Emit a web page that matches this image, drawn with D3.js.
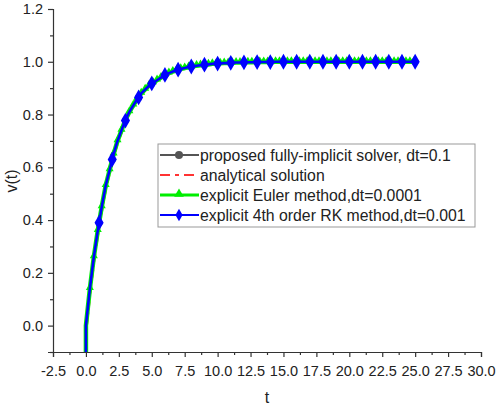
<!DOCTYPE html>
<html>
<head>
<meta charset="utf-8">
<script src="https://cdn.jsdelivr.net/npm/d3@7"></script>
<style>
  body { margin: 0; background: #fff; }
  text { font-family: "Liberation Sans", Arial, sans-serif; fill: #222; }
</style>
</head>
<body>
<svg id="chart" width="498" height="405"></svg>
<script>
// dense time grid (line data)
const tLine = [0, 0, 0.3, 0.6, 0.9, 1.2, 1.5, 1.8, 2.1, 2.4, 2.7, 3.0, 3.3, 3.6, 3.9, 4.2, 4.5, 4.8,
  5.1, 5.4, 5.7, 6.0, 6.3, 6.6, 6.9, 7.2, 7.5, 7.8, 8.1, 8.4, 8.7, 9.0, 9.3, 9.6, 9.9,
  10.2, 10.5, 10.8, 11.1, 11.4, 11.7, 12.0, 12.3, 12.6, 12.9, 13.2, 13.5, 13.8, 14.1,
  14.4, 14.7, 15.0, 15.3, 15.6, 15.9, 16.2, 16.5, 16.8, 17.1, 17.4, 17.7, 18.0, 18.3,
  18.6, 18.9, 19.2, 19.5, 19.8, 20.1, 20.4, 20.7, 21.0, 21.3, 21.6, 21.9, 22.2, 22.5,
  22.8, 23.1, 23.4, 23.7, 24.0, 24.3, 24.6, 24.9];
const vLine = [-0.12, 0, 0.14, 0.26, 0.36, 0.45, 0.53, 0.59, 0.65, 0.70, 0.74, 0.78, 0.81, 0.835, 0.86, 0.88, 0.895, 0.91,
  0.92, 0.93, 0.94, 0.95, 0.957, 0.963, 0.968, 0.973, 0.976, 0.98, 0.983, 0.985, 0.987, 0.989, 0.99, 0.992, 0.993,
  0.994, 0.995, 0.995, 0.996, 0.997, 0.997, 0.998, 0.998, 0.998, 0.999, 0.999, 0.999, 0.999, 0.999,
  1.0, 1.0, 1.0, 1.0, 1.0, 1.0, 1.0, 1.0, 1.0, 1.0, 1.0, 1.0, 1.0, 1.0,
  1.0, 1.0, 1.0, 1.0, 1.0, 1.0, 1.0, 1.0, 1.0, 1.0, 1.0, 1.0, 1.0, 1.0,
  1.0, 1.0, 1.0, 1.0, 1.0, 1.0, 1.0, 1.0];

// marker positions of the RK / proposed series (every 1.0)
const tMark = [1, 2, 3, 4, 5, 6, 7, 8, 9, 10, 11, 12, 13, 14, 15, 16, 17, 18, 19, 20, 21, 22, 23, 24, 25];
const vMark = [0.39, 0.63, 0.777, 0.865, 0.918, 0.95, 0.97, 0.982, 0.989, 0.993, 0.996, 0.998, 0.999, 0.999,
  1.0, 1.0, 1.0, 1.0, 1.0, 1.0, 1.0, 1.0, 1.0, 1.0, 1.0];

const xTicks = [-2.5, 0, 2.5, 5, 7.5, 10, 12.5, 15, 17.5, 20, 22.5, 25, 27.5, 30];
const yTicks = [0, 0.2, 0.4, 0.6, 0.8, 1.0, 1.2];

const legendLabels = [
  "proposed fully-implicit solver, dt=0.1",
  "analytical solution",
  "explicit Euler method,dt=0.0001",
  "explicit 4th order RK method,dt=0.001"
];
const legendColors = ["#555555", "#ff3333", "#00ee00", "#0000ff"];

const svg = d3.select("#chart");
const margin = { left: 53, right: 17, top: 9, bottom: 53 };
const width = +svg.attr("width"), height = +svg.attr("height");

const x = d3.scaleLinear().domain([-2.5, 30]).range([margin.left, width - margin.right]);
const y = d3.scaleLinear().domain([-0.1, 1.2]).range([height - margin.bottom, margin.top]);
const fmt = (d) => d.toFixed(1); // plain hyphen for negatives

svg.append("clipPath").attr("id", "plot-clip")
  .append("rect")
  .attr("x", margin.left).attr("y", margin.top)
  .attr("width", x.range()[1] - margin.left)
  .attr("height", y.range()[0] - margin.top);

const lineData = tLine.map((t, i) => [t, vLine[i]]);
const markData = tMark.map((t, i) => [t, vMark[i]]);
const line = d3.line().x((d) => x(d[0])).y((d) => y(d[1]));

const plot = svg.append("g").attr("clip-path", "url(#plot-clip)");

// proposed (gray, hidden underneath)
plot.append("path").datum(lineData).attr("d", line)
  .attr("fill", "none").attr("stroke", legendColors[0]).attr("stroke-width", 2);
plot.selectAll(".gray-dot").data(markData).join("circle")
  .attr("cx", (d) => x(d[0])).attr("cy", (d) => y(d[1])).attr("r", 3.5)
  .attr("fill", legendColors[0]);

// analytical (red dash-dot)
plot.append("path").datum(lineData).attr("d", line)
  .attr("fill", "none").attr("stroke", legendColors[1]).attr("stroke-width", 2)
  .attr("stroke-dasharray", "8,3,2,3")
  .attr("transform", "translate(1,0)");

// Euler (green + triangles)
plot.append("path").datum(lineData).attr("d", line)
  .attr("fill", "none").attr("stroke", legendColors[2]).attr("stroke-width", 4.5);
const tri = d3.symbol().type(d3.symbolTriangle).size(28);
plot.selectAll(".tri").data(lineData.filter((d) => d[0] > 0.1)).join("path")
  .attr("d", tri)
  .attr("transform", (d) => `translate(${x(d[0])},${y(d[1]) - 1})`)
  .attr("fill", legendColors[2]);

// RK4 (blue + diamonds)
plot.append("path").datum(lineData.concat([[25, 1.0]])).attr("d", line)
  .attr("fill", "none").attr("stroke", legendColors[3]).attr("stroke-width", 2.6);
const dia = d3.symbol().type(d3.symbolDiamond).size(72);
plot.selectAll(".dia").data(markData).join("path")
  .attr("d", dia)
  .attr("transform", (d) => `translate(${x(d[0])},${y(d[1])})`)
  .attr("fill", legendColors[3]);

// axes
const xAxis = svg.append("g")
  .attr("transform", `translate(0,${y.range()[0]})`)
  .call(d3.axisBottom(x).tickValues(xTicks).tickFormat(fmt).tickSize(5).tickPadding(9));
const xMinor = svg.append("g")
  .attr("transform", `translate(0,${y.range()[0]})`)
  .call(d3.axisBottom(x).tickValues(xTicks.slice(0, -1).map((d) => d + 1.25)).tickFormat("").tickSize(3));

const yAxis = svg.append("g")
  .attr("transform", `translate(${margin.left},0)`)
  .call(d3.axisLeft(y).tickValues(yTicks).tickFormat(fmt).tickSize(5).tickPadding(5));
const yMinor = svg.append("g")
  .attr("transform", `translate(${margin.left},0)`)
  .call(d3.axisLeft(y).tickValues([-0.1, 0.1, 0.3, 0.5, 0.7, 0.9, 1.1]).tickFormat("").tickSize(3));

[xAxis, xMinor, yAxis, yMinor].forEach((a) => {
  a.selectAll("path, line").attr("stroke", "#333").attr("stroke-width", 1.2);
  a.selectAll("text").attr("font-size", "14.5px").attr("fill", "#222")
    .style("font-family", "'Liberation Sans', Arial, sans-serif");
});
xMinor.select(".domain").remove();
yMinor.select(".domain").remove();

svg.append("text").attr("x", (x.range()[0] + x.range()[1]) / 2).attr("y", 403)
  .attr("text-anchor", "middle").attr("font-size", "16px").text("t");
svg.append("text").attr("transform", "translate(17,181) rotate(-90)")
  .attr("text-anchor", "middle").attr("font-size", "16px").text("v(t)");

// legend
const lg = svg.append("g").attr("transform", "translate(158,144)");
lg.append("rect").attr("width", 317).attr("height", 83)
  .attr("fill", "#fff").attr("stroke", "#999").attr("stroke-width", 1);
legendLabels.forEach((lab, i) => {
  const row = lg.append("g").attr("transform", `translate(0,${11 + i * 20})`);
  const l = row.append("line").attr("x1", 2).attr("x2", 41).attr("y1", 0).attr("y2", 0)
    .attr("stroke", legendColors[i]).attr("stroke-width", i === 2 ? 3 : 2);
  if (i === 1) l.attr("stroke-dasharray", "10,5,4,5");
  if (i === 0) row.append("circle").attr("cx", 21).attr("r", 4).attr("fill", legendColors[0]);
  if (i === 2) row.append("path").attr("d", d3.symbol().type(d3.symbolTriangle).size(40))
    .attr("transform", "translate(21,-1)").attr("fill", legendColors[2]);
  if (i === 3) row.append("path").attr("d", d3.symbol().type(d3.symbolDiamond).size(45))
    .attr("transform", "translate(21,0)").attr("fill", legendColors[3]);
  row.append("text").attr("x", 42).attr("y", 5.5).attr("font-size", "15.8px").text(lab);
});
</script>
</body>
</html>
